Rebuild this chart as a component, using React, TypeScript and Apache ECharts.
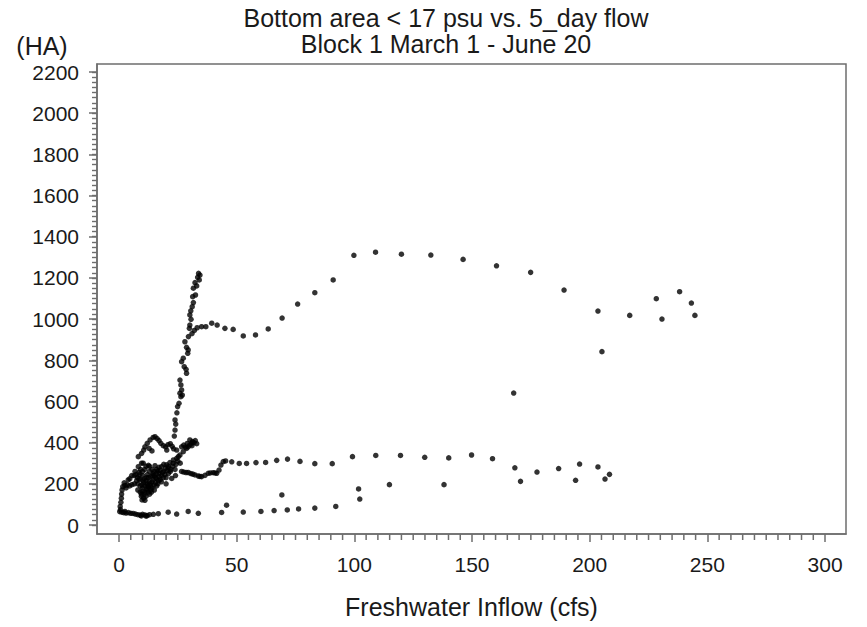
import React, { useEffect, useRef } from "react";
import * as echarts from "echarts";

const titleLines = ["Bottom area < 17 psu vs. 5_day flow", "Block 1 March 1 - June 20"];
const yUnit = "(HA)";
const xName = "Freshwater Inflow (cfs)";

const xMajorTicks = [0, 50, 100, 150, 200, 250, 300];
const yMajorTicks = [0, 200, 400, 600, 800, 1000, 1200, 1400, 1600, 1800, 2000, 2200];

// Vertical climb near 23-35 cfs
const riseBranch: number[][] = [
  [23.5, 432], [23.8, 461], [24.1, 490], [23.8, 510], [24.6, 545], [24.9, 575], [25.5, 591],
  [26.3, 623], [25.9, 640], [26.9, 631], [26.6, 656], [26.3, 680], [25.9, 704], [28.7, 737],
  [28.5, 756], [27.7, 769], [26.6, 793], [27.3, 810], [29.2, 834], [29.4, 850], [28.7, 863],
  [28.0, 890], [29.5, 915], [31.0, 930], [29.9, 955], [30.1, 971], [30.6, 999], [30.1, 1020],
  [30.5, 1040], [31.1, 1060], [31.6, 1080], [31.3, 1109], [32.5, 1117], [31.6, 1150],
  [33.0, 1161], [32.3, 1177], [34.1, 1190], [33.4, 1203], [34.4, 1214], [33.8, 1222],
  [32.0, 945], [33.2, 958],
];

// Upper arc out to ~245 cfs
const upperArc: number[][] = [
  [35.1, 963], [36.9, 963], [39.4, 980], [41.7, 971], [45.0, 955], [48.5, 950], [52.8, 918],
  [58.0, 923], [63.4, 952], [69.3, 1005], [75.9, 1073], [83.2, 1128], [91.0, 1190],
  [99.8, 1310], [109.0, 1325], [120.0, 1315], [132.5, 1311], [146.2, 1290], [160.4, 1259],
  [174.9, 1227], [189.1, 1141], [203.5, 1039], [205.2, 842], [217.0, 1018], [228.3, 1099],
  [230.7, 1000], [238.2, 1133], [243.2, 1078], [244.7, 1018], [167.7, 641],
];

// Middle band ~250-340 ha
const midLine: number[][] = [
  [12.5, 290], [15.3, 288], [18.1, 283], [20.9, 278], [23.8, 270], [26.6, 260], [27.5, 257],
  [28.5, 255], [29.4, 255], [30.5, 250], [31.4, 247], [32.3, 243], [33.7, 238], [34.4, 236],
  [35.1, 235], [36.5, 241], [37.9, 251], [38.8, 253], [40.0, 254], [40.8, 253], [41.5, 251],
  [42.5, 267], [43.3, 291], [44.3, 308], [45.3, 311], [47.9, 307], [51.1, 299], [54.2, 299],
  [58.2, 303], [62.3, 304], [67.0, 314], [71.6, 320], [76.9, 309], [83.2, 298], [90.6, 298],
  [99.2, 332], [109.1, 338], [119.6, 338], [129.9, 329], [140.1, 326], [149.8, 340],
  [158.7, 322], [168.2, 278], [170.6, 212], [177.6, 257], [186.8, 274], [194.0, 217],
  [195.7, 296], [203.5, 282], [206.5, 223], [208.4, 246],
];

// Lowest band ~50-200 ha
const lowLine: number[][] = [
  [20.9, 62], [24.5, 53], [29.4, 66], [33.7, 57], [43.6, 61], [45.7, 96], [52.8, 63],
  [60.3, 66], [65.9, 70], [69.2, 146], [71.5, 73], [76.3, 78], [83.2, 82], [92.1, 90],
  [101.8, 175], [102.3, 126], [114.9, 196], [138.1, 196],
];

// Dense cluster at low flow
const cluster: number[][] = [
  [0.3, 65], [0.6, 75], [1.2, 62], [2.0, 60], [3.0, 58], [4.0, 60], [5.0, 57], [6.0, 56],
  [7.0, 53], [8.0, 50], [9.0, 48], [10.0, 52], [11.0, 49], [12.0, 46], [13.0, 50], [14.6, 52],
  [16.7, 55], [9.5, 44], [11.5, 43], [2.5, 66],
  [0.5, 90], [0.8, 110], [1.0, 130], [1.1, 150], [1.3, 170], [1.6, 186], [2.5, 192], [3.5, 195],
  [4.5, 190], [5.5, 196], [6.5, 200], [3.9, 219], [5.4, 240], [6.8, 260], [8.2, 283], [9.6, 300],
  [10.3, 300], [2.2, 205], [3.0, 180], [4.6, 225],
  [8.2, 332], [9.6, 348], [10.5, 364], [11.0, 380], [12.0, 397], [13.2, 413], [14.5, 425],
  [15.3, 429], [16.2, 420], [17.0, 410], [17.8, 397], [18.8, 385], [19.8, 380], [20.8, 390],
  [21.8, 395], [22.6, 382], [23.2, 370], [24.5, 364], [25.2, 332], [12.8, 372], [14.0, 360],
  [30.1, 413], [31.2, 405], [32.4, 410], [30.9, 398], [33.0, 395], [31.0, 385], [29.4, 380],
  [28.7, 372], [27.3, 356], [25.9, 340], [24.5, 324], [23.1, 316], [21.6, 303], [20.2, 292],
  [20.3, 364], [26.6, 380], [30.1, 389], [27.5, 388], [29.0, 396], [31.8, 400], [28.2, 378],
  [8, 200], [9, 220], [10, 240], [10, 180], [11, 160], [11.5, 140], [12, 200], [12.5, 230],
  [13, 260], [13.5, 190], [14, 210], [14.5, 250], [15, 170], [15.5, 230], [16, 270], [16.5, 200],
  [17, 250], [17.5, 220], [18, 240], [19, 260], [20, 230], [21, 250], [22, 270], [11, 120],
  [10.5, 130], [9.5, 150], [12, 170], [13, 150], [14, 180], [16, 190], [18, 210], [20, 200],
  [22.4, 226], [24, 240], [9, 190], [7.5, 215], [6.5, 240], [8.5, 255], [11, 270], [13, 285],
  [10, 165], [12.5, 185], [15, 240], [17, 280], [19, 295], [21, 285], [23, 300], [25, 310],
  [8, 170], [9.8, 122], [9.5, 140], [9, 160], [10.5, 205], [11.5, 215], [12, 245], [13.5, 235],
  [14.5, 220], [15.5, 205], [16, 225], [17, 235], [18.5, 255], [19.5, 245], [12.5, 160],
  [13.5, 170], [11, 190], [10, 260], [11.5, 285], [14, 270], [15, 260], [16.5, 262],
  [9.2, 270], [7.8, 230], [10.8, 225], [12.8, 210], [14.8, 195], [17.5, 265], [20.5, 265],
  [8.8, 245], [10.2, 215], [11.8, 230], [12.2, 190], [13.2, 200], [14.2, 240], [15.8, 250],
  [16.8, 215], [18.8, 230], [19.8, 275], [21.8, 260], [22.8, 285], [10.8, 150], [11.8, 175],
  [13.8, 160], [9.8, 195], [8.5, 225], [7.2, 245], [24.2, 295], [26.0, 300],
];

const FONT = "'Liberation Sans', Arial, sans-serif";
const TEXT = "#1a1a1a";
const AXIS = "#6e6e6e";

// plot frame: x from 97 to 846 px, y from 64 to 534 px;
// 0 cfs at x=119, 300 cfs at x=825; 0 ha at y=525, 2200 ha at y=72
const X_MIN = -9.35;
const X_MAX = 308.9;
const Y_MIN = -43.7;
const Y_MAX = 2238.9;

const xMinorTicks: number[] = [];
for (let v = 5; v < 300; v += 5) if (v % 50 !== 0) xMinorTicks.push(v);
const yAllTicks: number[] = [];
for (let v = 0; v <= 2200; v += 25) yAllTicks.push(v);

export default function App() {
  const ref = useRef<HTMLDivElement>(null);
  useEffect(() => {
    if (!ref.current) return;
    const chart = echarts.init(ref.current, null, { renderer: "svg" });
    const mk = (data: number[][]) => ({
      type: "scatter",
      data,
      symbol: "circle",
      symbolSize: 5.5,
      clip: false,
      itemStyle: { color: "#000" },
    });
    const plain = (v: number) => String(Math.round(v));
    const titleStyle = { fontFamily: FONT, fontSize: 25, fontWeight: "normal", color: TEXT };
    chart.setOption({
      animation: false,
      backgroundColor: "#fff",
      title: [
        { text: titleLines[0], left: 446, top: 5, padding: 0, textAlign: "center", textStyle: titleStyle },
        { text: titleLines[1], left: 446, top: 31, padding: 0, textAlign: "center", textStyle: titleStyle },
      ],
      grid: { left: 97, right: 21, top: 64, bottom: 93, containLabel: false, show: false },
      xAxis: [
        {
          type: "value",
          gridIndex: 0,
          min: X_MIN,
          max: X_MAX,
          position: "bottom",
          name: xName,
          nameLocation: "middle",
          nameGap: 60,
          nameTextStyle: { fontFamily: FONT, fontSize: 25, color: TEXT },
          axisLine: { show: true, onZero: false, lineStyle: { color: AXIS, width: 1.5 } },
          axisTick: { show: true, inside: false, length: 8, customValues: xMajorTicks, lineStyle: { color: AXIS, width: 1.5 } },
          axisLabel: { customValues: xMajorTicks, formatter: plain, fontFamily: FONT, fontSize: 21, color: TEXT, margin: 20 },
          splitLine: { show: false },
        },
      ],
      yAxis: [
        {
          type: "value",
          gridIndex: 0,
          min: Y_MIN,
          max: Y_MAX,
          position: "left",
          axisLine: { show: true, onZero: false, lineStyle: { color: AXIS, width: 1.5 } },
          axisTick: { show: true, inside: false, length: 5, customValues: yAllTicks, lineStyle: { color: AXIS, width: 1.4 } },
          axisLabel: { customValues: yMajorTicks, formatter: plain, fontFamily: FONT, fontSize: 21, color: TEXT, margin: 18 },
          splitLine: { show: false },
        },
        {
          type: "value",
          gridIndex: 0,
          min: Y_MIN,
          max: Y_MAX,
          position: "left",
          axisLine: { show: false, onZero: false },
          axisTick: { show: true, inside: false, length: 8, customValues: yMajorTicks, lineStyle: { color: AXIS, width: 1.5 } },
          axisLabel: { show: false },
          splitLine: { show: false },
        },
      ],
      graphic: [
        {
          type: "rect",
          silent: true,
          shape: { x: 97, y: 64, width: 749, height: 470 },
          style: { fill: "none", stroke: AXIS, lineWidth: 1.5 },
        },
        {
          type: "text",
          x: 42,
          y: 46,
          style: { text: yUnit, font: `25px ${FONT}`, fill: TEXT, textAlign: "center", textVerticalAlign: "middle" },
        },
      ],
      series: [
        {
          type: "custom",
          silent: true,
          clip: false,
          z: 10,
          data: xMinorTicks.map((v) => [v, Y_MIN]),
          renderItem: (_params: any, api: any) => {
            const p = api.coord([api.value(0), api.value(1)]);
            return {
              type: "line",
              shape: { x1: p[0], y1: p[1], x2: p[0], y2: p[1] + 6 },
              style: { stroke: AXIS, lineWidth: 1.5 },
            };
          },
        },
        mk(cluster),
        mk(riseBranch),
        mk(upperArc),
        mk(midLine),
        mk(lowLine),
      ],
    });
    return () => chart.dispose();
  }, []);
  return <div ref={ref} style={{ width: 867, height: 627, position: "absolute", left: 0, top: 0 }} />;
}
